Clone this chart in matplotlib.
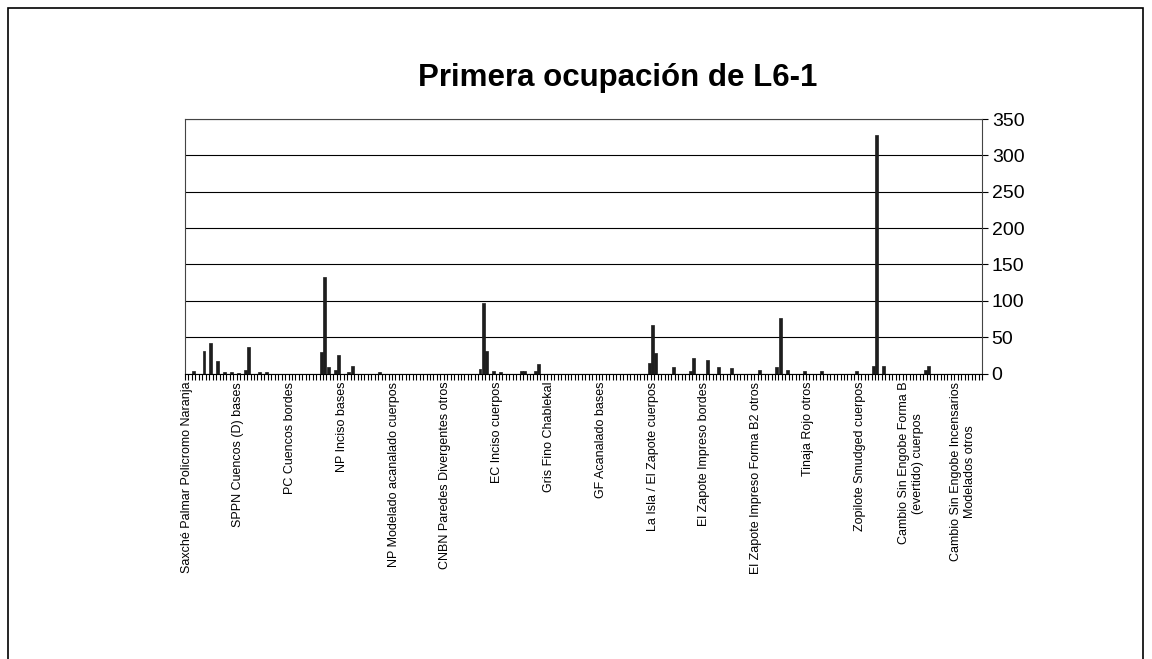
import matplotlib
matplotlib.use("Agg")
import matplotlib.pyplot as plt
from matplotlib.patches import Rectangle
import numpy as np

plt.rcParams['font.family'] = ['Liberation Sans', 'DejaVu Sans']

# ===================== Data =====================
n_cats = 231
title = "Primera ocupación de L6-1"

# categories that carry a label on the axis (every 15th)
label_pos = [0, 15, 30, 45, 60, 75, 90, 105, 120, 135, 150, 165, 180, 195, 210, 225]
label_txt = [
    "Saxché Palmar Policromo Naranja",
    "SPPN Cuencos (D) bases",
    "PC Cuencos bordes",
    "NP Inciso bases",
    "NP Modelado acanalado cuerpos",
    "CNBN Paredes Divergentes otros",
    "EC Inciso cuerpos",
    "Gris Fino Chablekal",
    "GF Acanalado bases",
    "La Isla / El Zapote cuerpos",
    "El Zapote Impreso bordes",
    "El Zapote Impreso Forma B2 otros",
    "Tinaja Rojo otros",
    "Zopilote Smudged cuerpos",
    "Cambio Sin Engobe Forma B\n(evertido) cuerpos",
    "Cambio Sin Engobe Incensarios\nModelados otros",
]

# non-zero counts (category index -> count), everything else is 0
bar_idx = [2, 5, 7, 9, 11, 13, 15, 17, 18, 21, 23,
           39, 40, 41, 43, 44, 47, 48,
           56,
           85, 86, 87, 89, 91, 97, 98, 101, 102,
           134, 135, 136, 141, 146, 147, 151, 154, 158,
           166, 171, 172, 174, 179, 184,
           194, 199, 200, 202, 214, 215]
bar_val = [3, 31, 42, 17, 2, 2, 1, 5, 36, 2, 2,
           30, 133, 9, 5, 25, 2, 10,
           2,
           6, 97, 31, 3, 2, 4, 3, 3, 13,
           14, 67, 28, 9, 3, 22, 19, 9, 8,
           5, 9, 76, 5, 3, 3,
           3, 11, 328, 10, 5, 10]

y_ticks = [0, 50, 100, 150, 200, 250, 300, 350]

counts = np.zeros(n_cats)
for i in range(len(bar_idx)):
    counts[bar_idx[i]] = bar_val[i]

# ===================== Plot =====================
fig = plt.figure(figsize=(11.52, 6.59), dpi=100)
ax = fig.add_axes([185 / 1152, 1 - 373.5 / 659, (982 - 185) / 1152, (373.5 - 119) / 659])

ax.bar(np.arange(n_cats), counts, width=0.85, color='#1e1e1e',
       edgecolor='#1e1e1e', linewidth=0.5, zorder=3)

ax.set_xlim(-0.5, n_cats - 0.5)
ax.set_ylim(0, 350)
ax.set_yticks(y_ticks)
ax.yaxis.tick_right()
ax.tick_params(axis='y', labelsize=14, length=4, width=0.8, pad=3, colors='black')
ax.grid(axis='y', color='black', linewidth=0.8, zorder=1)

# small tick marks between every category, labels on every 15th
ax.set_xticks(np.arange(n_cats + 1) - 0.5)
ax.set_xticklabels([])
ax.tick_params(axis='x', which='major', length=4, width=0.8, direction='out')
ax.set_xticks(label_pos, minor=True)
ax.set_xticklabels(label_txt, minor=True, rotation=90, fontsize=9,
                   ha='center', va='top', linespacing=1.25)
ax.tick_params(axis='x', which='minor', length=0, pad=6)

for s in ax.spines.values():
    s.set_linewidth(0.8)
    s.set_color('#444444')
ax.spines['bottom'].set_color('black')

fig.text(618 / 1152, 1 - 78 / 659, title, fontsize=22.5, fontweight='bold',
         ha='center', va='center')

# outer frame around the chart
fig.patches.append(Rectangle((8 / 1152, -0.01), (1143 - 8) / 1152, 1 - 8 / 659 + 0.01,
                             transform=fig.transFigure, fill=False,
                             edgecolor='black', linewidth=1.2))

fig.savefig('out.png', dpi=100)
